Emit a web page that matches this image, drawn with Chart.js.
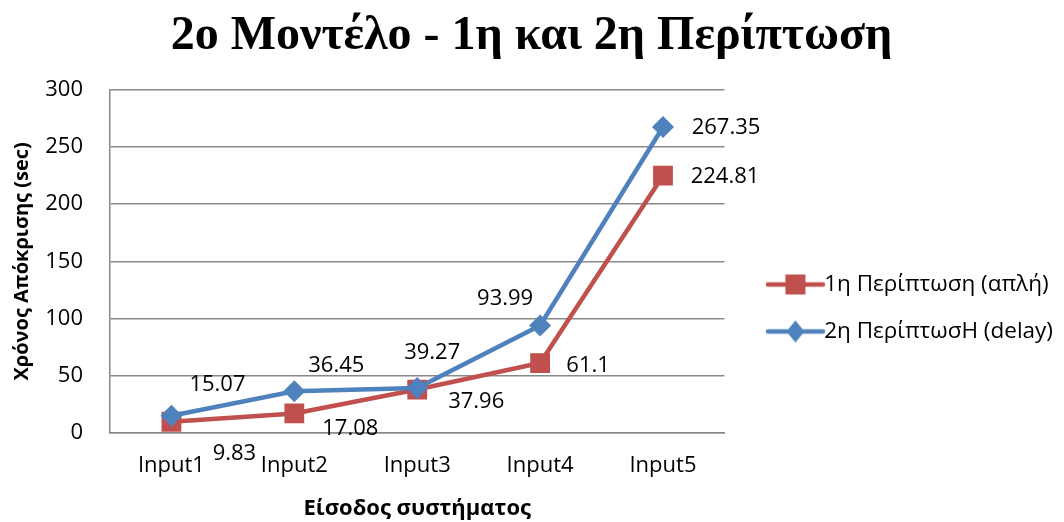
<!DOCTYPE html>
<html><head><meta charset="utf-8">
<script src="https://cdn.jsdelivr.net/npm/chart.js@4.4.0/dist/chart.umd.min.js"></script>
<style>html,body{margin:0;padding:0;background:#fff}#wrap{width:1064px;height:522px}</style>
</head><body><div id="wrap"><canvas id="c" width="1064" height="522"></canvas></div>
<script>
const chartTitle = '2ο Μοντέλο - 1η και 2η Περίπτωση';
const categories = ['Input1', 'Input2', 'Input3', 'Input4', 'Input5'];
const case1Name = '1η Περίπτωση (απλή)';
const case2Name = '2η ΠερίπτωσΗ (delay)';
const case1Values = [9.83, 17.08, 37.96, 61.1, 224.81];
const case2Values = [15.07, 36.45, 39.27, 93.99, 267.35];
const yTickValues = [0, 50, 100, 150, 200, 250, 300];
const yAxisTitle = 'Χρόνος Απόκρισης (sec)';
const xAxisTitle = 'Είσοδος συστήματος';

const RED = '#C0504D', BLUE = '#4F81BD';
const FONT = "'Open Sans', 'Noto Sans', sans-serif";
// label centre offsets (pixels) from each point, per dataset
const labelOffsets = [
  [[63, 32], [56, 15], [59, 12], [48, 3], [62, 1]],
  [[46, -31], [42, -26], [15, -35], [-35, -27], [63, 1]]
];

function legendIcon(color, shape) {
  const cv = document.createElement('canvas');
  cv.width = 90; cv.height = 24;
  const g = cv.getContext('2d');
  g.strokeStyle = color; g.lineWidth = 4.5; g.lineCap = 'round';
  g.beginPath(); g.moveTo(32, 12); g.lineTo(87, 12); g.stroke();
  g.fillStyle = color;
  const cx = 59.5;
  if (shape === 'square') {
    g.fillRect(cx - 10, 2, 20, 20);
  } else {
    g.beginPath(); g.moveTo(cx, 1); g.lineTo(cx + 9, 12); g.lineTo(cx, 23); g.lineTo(cx - 9, 12); g.closePath(); g.fill();
  }
  return cv;
}

const dataLabels = {
  id: 'dataLabels',
  afterDatasetsDraw(chart) {
    const ctx = chart.ctx;
    ctx.save();
    ctx.font = '22px ' + FONT;
    ctx.fillStyle = '#000';
    ctx.textAlign = 'center';
    ctx.textBaseline = 'middle';
    chart.data.datasets.forEach((ds, di) => {
      const meta = chart.getDatasetMeta(di);
      meta.data.forEach((pt, i) => {
        const off = labelOffsets[di][i];
        ctx.fillText(String(ds.data[i]), pt.x + off[0], pt.y + off[1]);
      });
    });
    ctx.restore();
  }
};

const yTitlePlugin = {
  id: 'yTitle',
  afterDraw(chart) {
    const a = chart.chartArea, ctx = chart.ctx;
    ctx.save();
    ctx.translate(22, (a.top + a.bottom) / 2);
    ctx.rotate(-Math.PI / 2);
    ctx.font = 'bold 20px ' + FONT;
    ctx.fillStyle = '#000';
    ctx.textAlign = 'center';
    ctx.textBaseline = 'middle';
    ctx.fillText(yAxisTitle, 0, 0);
    ctx.restore();
  }
};

function build() {
  const icons = [legendIcon(RED, 'square'), legendIcon(BLUE, 'diamond')];
  new Chart(document.getElementById('c'), {
    type: 'line',
    data: {
      labels: categories,
      datasets: [
        { label: case1Name, data: case1Values, borderColor: RED, backgroundColor: RED,
          borderWidth: 4.5, pointStyle: 'rect', pointRadius: 14, pointHoverRadius: 14,
          pointBorderWidth: 0, tension: 0, order: 1 },
        { label: case2Name, data: case2Values, borderColor: BLUE, backgroundColor: BLUE,
          borderWidth: 4.5, pointStyle: 'rectRot', pointRadius: 11, pointHoverRadius: 11,
          pointBorderWidth: 0, tension: 0, order: 0 }
      ]
    },
    options: {
      responsive: false,
      animation: false,
      layout: { padding: { left: 0, right: 1, top: 0, bottom: 0 } },
      plugins: {
        title: {
          display: true, text: chartTitle, color: '#000',
          font: { family: "'Liberation Serif', 'Times New Roman', serif", size: 48, weight: 'bold' },
          padding: { top: 8, bottom: 24 }
        },
        legend: {
          position: 'right',
          maxWidth: 400,
          title: { display: true, text: ' ', font: { size: 10 }, padding: { top: 82, bottom: 0 } },
          labels: {
            usePointStyle: true, pointStyleWidth: 64, boxHeight: 22,
            color: '#000', font: { family: FONT, size: 22.5 }, padding: 24.5,
            generateLabels(chart) {
              return chart.data.datasets.map((ds, i) => ({
                text: ds.label, fillStyle: ds.borderColor, strokeStyle: ds.borderColor,
                pointStyle: icons[i], datasetIndex: i, hidden: false, lineWidth: 0, fontColor: '#000'
              }));
            }
          }
        },
        tooltip: { enabled: false }
      },
      scales: {
        x: {
          offset: true,
          grid: { display: false, drawTicks: false },
          border: { display: true, color: '#898989', width: 1.5 },
          ticks: { color: '#000', font: { family: FONT, size: 22 }, padding: 20, maxRotation: 0 },
          title: { display: true, text: xAxisTitle, color: '#000', font: { family: FONT, size: 22, weight: 'bold' }, padding: { top: 0, bottom: 0 } },
          afterFit(s) { s.height = 89; }
        },
        y: {
          min: 0, max: 300,
          afterBuildTicks(s) { s.ticks = yTickValues.map(v => ({ value: v })); },
          grid: { color: '#898989', lineWidth: 1.5, drawTicks: false },
          border: { display: true, color: '#898989', width: 1.5 },
          ticks: { color: '#000', font: { family: FONT, size: 22 }, padding: 27 },
          title: { display: false },
          afterFit(s) { s.width = 110; }
        }
      }
    },
    plugins: [dataLabels, yTitlePlugin]
  });
}

const fontLoads = [
  "22px 'Open Sans'", "bold 22px 'Open Sans'", "bold 48px 'Liberation Serif'"
].map(f => document.fonts.load(f, 'ΑαΧρόνος0123'));
Promise.all(fontLoads).then(build, build);
</script></body></html>
